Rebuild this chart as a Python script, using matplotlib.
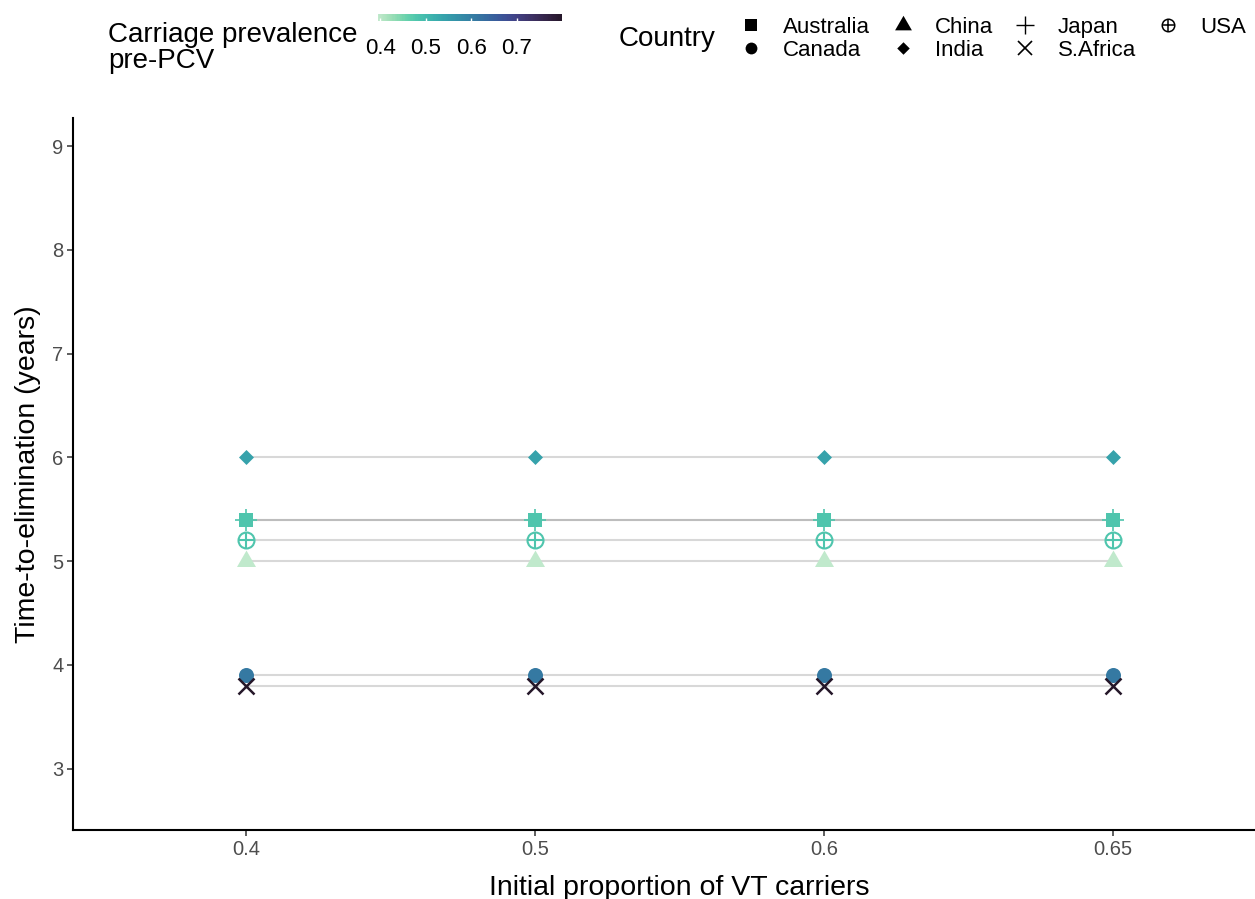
import numpy as np
import matplotlib
matplotlib.use('Agg')
import matplotlib.pyplot as plt
from matplotlib.lines import Line2D
from matplotlib.colors import Normalize, ListedColormap
from matplotlib.cm import ScalarMappable
import seaborn as sns  # registra el colormap 'mako'

plt.rcParams['font.family'] = ['Liberation Sans', 'DejaVu Sans']

# Datos
x_labels = ['0.4', '0.5', '0.6', '0.65']
countries = ['Australia', 'Canada', 'China', 'India', 'Japan', 'S.Africa', 'USA']
prevalence = [0.48, 0.61, 0.395, 0.54, 0.48, 0.80, 0.48]
time_to_elim = [
    [5.4, 5.4, 5.4, 5.4],   # Australia
    [3.9, 3.9, 3.9, 3.9],   # Canada
    [5.0, 5.0, 5.0, 5.0],   # China
    [6.0, 6.0, 6.0, 6.0],   # India
    [5.4, 5.4, 5.4, 5.4],   # Japan
    [3.8, 3.8, 3.8, 3.8],   # S.Africa
    [5.2, 5.2, 5.2, 5.2],   # USA
]

# Estilos de marcador (plot, leyenda)
marker_style = {
    'Australia': dict(marker='s', ms=10, mew=0),
    'Canada':    dict(marker='o', ms=10.8, mew=0),
    'China':     dict(marker=(3, 0, 0), ms=15.8, mew=0),
    'India':     dict(marker=(4, 0, 0), ms=10.8, mew=0),
    'Japan':     dict(marker='+', ms=16, mew=1.2),
    'S.Africa':  dict(marker='x', ms=11, mew=1.8),
}
legend_style = {
    'Australia': dict(marker='s', ms=8.5, mew=0),
    'Canada':    dict(marker='o', ms=8.5, mew=0),
    'China':     dict(marker=(3, 0, 0), ms=14, mew=0),
    'India':     dict(marker=(4, 0, 0), ms=9, mew=0),
    'Japan':     dict(marker='+', ms=12.5, mew=1.0),
    'S.Africa':  dict(marker='x', ms=10.5, mew=1.2),
}

# mako invertido, recortado en los extremos
base = plt.get_cmap('mako_r')
cmap = ListedColormap(base(np.linspace(0.06, 0.9, 256)))
norm = Normalize(vmin=min(prevalence), vmax=max(prevalence))

W, H = 1255, 899
fig = plt.figure(figsize=(W / 100, H / 100), dpi=100)
ax = fig.add_axes([73 / W, 1 - 830 / H, (1286 - 73) / W, (830 - 118) / H])

xpos = np.arange(1, len(x_labels) + 1)

# Líneas por país
for vals in time_to_elim:
    ax.plot(xpos, vals, color='#7f7f7f', alpha=0.3, lw=1.5, zorder=1)

# Puntos
for c, p, vals in zip(countries, prevalence, time_to_elim):
    col = cmap(norm(p))
    if c == 'USA':
        ax.plot(xpos, vals, linestyle='None', marker='o', ms=11.5, mfc='none',
                mec=col, mew=1.5, zorder=3)
        ax.plot(xpos, vals, linestyle='None', marker='+', ms=11.5,
                mec=col, mew=1.5, zorder=3)
    else:
        st = marker_style[c]
        ax.plot(xpos, vals, linestyle='None', marker=st['marker'], ms=st['ms'],
                color=col, mec=col, mew=st['mew'], zorder=3)

ax.set_xlim(0.4, 4.6)
ax.set_ylim(2.41, 9.27)
ax.set_xticks(xpos)
ax.set_xticklabels(x_labels)
ax.set_yticks(np.arange(3, 10))
for s in ['top', 'right']:
    ax.spines[s].set_visible(False)
for s in ['left', 'bottom']:
    ax.spines[s].set_linewidth(1.5)
    ax.spines[s].set_color('black')
ax.tick_params(length=4, width=1.1, color='#333333', labelsize=14.5,
               labelcolor='#4d4d4d', pad=3)
ax.set_xlabel('Initial proportion of VT carriers', fontsize=20.5, labelpad=12)
ax.set_ylabel('Time-to-elimination (years)', fontsize=20.5, labelpad=8)

# Leyenda de color
fig.text(108 / W, 1 - 22 / H, 'Carriage prevalence\npre-PCV', fontsize=20,
         va='top', ha='left', linespacing=1.0)
cax = fig.add_axes([378 / W, 1 - 21 / H, 184 / W, 7 / H])
cb = fig.colorbar(ScalarMappable(norm=norm, cmap=cmap), cax=cax,
                  orientation='horizontal', ticks=[0.4, 0.5, 0.6, 0.7])
cb.outline.set_visible(False)
cax.tick_params(axis='x', length=2, width=1, color='white', direction='in',
                labelsize=16, labelcolor='black', pad=12)
cb.ax.set_xticklabels(['0.4', '0.5', '0.6', '0.7'])

# Leyenda de país
fig.text(619 / W, 1 - 39 / H, 'Country', fontsize=20, va='center', ha='left')
handles = []
for c in countries:
    if c == 'USA':
        h = (Line2D([], [], linestyle='None', marker='o', ms=9, mfc='none',
                    mec='black', mew=1.1),
             Line2D([], [], linestyle='None', marker='+', ms=9,
                    mec='black', mew=1.1))
    else:
        st = legend_style[c]
        h = Line2D([], [], linestyle='None', marker=st['marker'], ms=st['ms'],
                   color='black', mew=st['mew'])
    handles.append(h)
fig.legend(handles, countries, ncol=4, loc='upper left',
           bbox_to_anchor=(740 / W, 1 - 17 / H), frameon=False, fontsize=16,
           handlelength=1.0, handletextpad=0.95, columnspacing=0.95,
           labelspacing=0.09, borderpad=0, borderaxespad=0)

fig.savefig('out.png', dpi=100)
